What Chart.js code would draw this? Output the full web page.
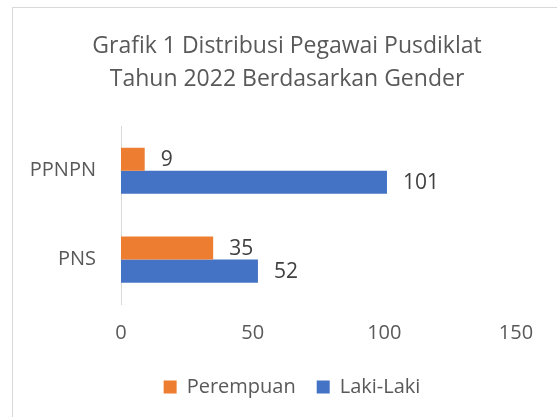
<!DOCTYPE html>
<html>
<head>
<meta charset="utf-8">
<script src="https://cdn.jsdelivr.net/npm/chart.js"></script>
<style>
  html, body { margin: 0; padding: 0; background: #fff; overflow: hidden; }
  #wrap { position: relative; width: 557px; height: 417px; }
  #frame { position: absolute; left: 12px; top: 7px; width: 600px; height: 500px; border: 1px solid #d9d9d9; box-sizing: border-box; }
  canvas { position: absolute; left: 0; top: 0; }
</style>
</head>
<body>
<div id="wrap">
  <div id="frame"></div>
  <canvas id="genderChart" width="557" height="417"></canvas>
</div>
<script>
// data
const categories = ['PPNPN', 'PNS'];
const perempuan = [9, 35];
const lakiLaki = [101, 52];
const xTicks = [0, 50, 100, 150];

const FONT = '"Open Sans", sans-serif';

// value labels to the right of each bar
const valueLabels = {
  id: 'valueLabels',
  afterDatasetsDraw(chart) {
    const ctx = chart.ctx;
    ctx.save();
    ctx.font = '21px ' + FONT;
    ctx.fillStyle = '#404040';
    ctx.textAlign = 'left';
    ctx.textBaseline = 'middle';
    chart.data.datasets.forEach((ds, i) => {
      chart.getDatasetMeta(i).data.forEach((bar, j) => {
        ctx.fillText(ds.data[j], bar.x + 16, bar.y + 1);
      });
    });
    ctx.restore();
  }
};

// put title and legend on the same centre line as the original
function centreBox(box, cx) {
  const w = box.right - box.left;
  box.left = cx - w / 2;
  box.right = cx + w / 2;
}
const recentre = {
  id: 'recentre',
  afterLayout(chart) {
    if (chart.titleBlock) centreBox(chart.titleBlock, 287);
    if (chart.legend) centreBox(chart.legend, 292);
  }
};

new Chart(document.getElementById('genderChart'), {
  type: 'bar',
  data: {
    labels: categories,
    datasets: [{
      label: 'Perempuan',
      data: perempuan,
      backgroundColor: '#ED7D31'
    }, {
      label: 'Laki-Laki',
      data: lakiLaki,
      backgroundColor: '#4472C4'
    }]
  },
  options: {
    indexAxis: 'y',
    responsive: false,
    animation: false,
    layout: { padding: { left: 21, right: 41, top: 0, bottom: 10 } },
    datasets: { bar: { categoryPercentage: 0.52, barPercentage: 1 } },
    plugins: {
      title: {
        display: true,
        text: ['Grafik 1 Distribusi Pegawai Pusdiklat', 'Tahun 2022 Berdasarkan Gender'],
        color: '#595959',
        font: { family: FONT, size: 23, weight: 'normal', lineHeight: 1.42 },
        padding: { top: 30, bottom: 31 }
      },
      legend: {
        position: 'bottom',
        labels: {
          color: '#595959',
          font: { family: FONT, size: 20 },
          boxWidth: 13,
          boxHeight: 13,
          padding: 21
        }
      },
      tooltip: { enabled: false }
    },
    scales: {
      x: {
        min: 0,
        max: 150,
        afterBuildTicks: s => { s.ticks = xTicks.map(v => ({ value: v })); },
        afterFit: s => { s.height = 52; },
        grid: { display: false },
        border: { display: false },
        ticks: { color: '#595959', font: { family: FONT, size: 20 }, padding: 9 }
      },
      y: {
        afterFit: s => { s.width = 100; },
        grid: { display: false },
        border: { display: true, color: '#d9d9d9', width: 1 },
        ticks: { color: '#595959', font: { family: FONT, size: 20 }, padding: 17 }
      }
    }
  },
  plugins: [valueLabels, recentre]
});
</script>
</body>
</html>
